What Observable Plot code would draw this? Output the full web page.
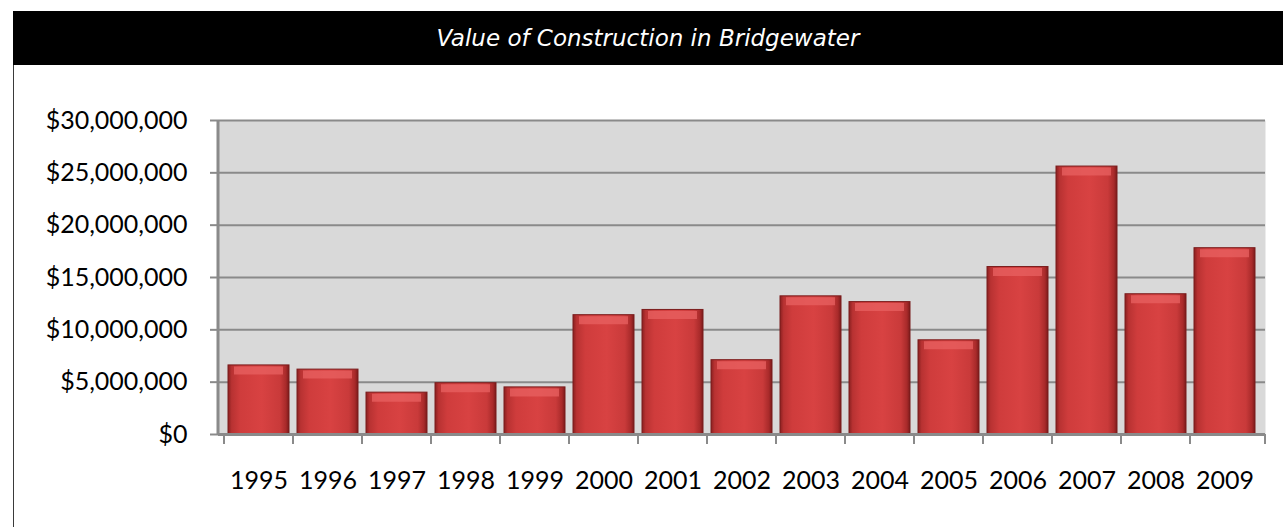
<!DOCTYPE html>
<html><head><meta charset="utf-8">
<script src="https://cdn.jsdelivr.net/npm/d3@7"></script>
<script src="https://cdn.jsdelivr.net/npm/@observablehq/plot@0.6"></script>
<style>
html,body{margin:0;padding:0;background:#fff;}
#wrap{position:relative;width:1283px;height:527px;overflow:hidden;background:#fff;}
#title{position:absolute;left:13px;top:11px;width:1270px;height:54px;background:#000;color:#fff;font-family:"DejaVu Sans";font-style:italic;font-weight:200;font-size:23px;text-align:center;line-height:54px;}
#border{position:absolute;left:13px;top:65px;width:1px;height:462px;background:#3a3a3a;}
#chart{position:absolute;left:0;top:65px;}
</style></head><body>
<div id="wrap"><div id="title">Value of Construction in Bridgewater</div><div id="border"></div><div id="chart"></div></div>
<script>
const years = ["1995","1996","1997","1998","1999","2000","2001","2002","2003","2004","2005","2006","2007","2008","2009"];
const values = [6600000, 6200000, 4000000, 4900000, 4500000, 11400000, 11900000, 7100000, 13200000, 12650000, 9000000, 16000000, 25600000, 13400000, 17800000];
const yTicks = [0, 5000000, 10000000, 15000000, 20000000, 25000000, 30000000];

const data = years.map((year, i) => ({year, value: values[i]}));
const fmt = d3.format("$,");

const chart = Plot.plot({
  width: 1283, height: 462,
  marginLeft: 218, marginRight: 18, marginTop: 55, marginBottom: 93,
  style: {fontFamily: "Lato", fontSize: "25px", color: "#000", background: "transparent", overflow: "visible"},
  x: {domain: years, paddingInner: 0.12, paddingOuter: 0.06, label: null},
  y: {domain: [0, 30000000], label: null},
  marks: [
    Plot.frame({fill: "#d9d9d9", stroke: "none"}),
    Plot.ruleY(yTicks.slice(1), {stroke: "#8a8a8a", strokeWidth: 2}),
    Plot.barY(data, {x: "year", y: "value", fill: "url(#barGrad)", stroke: "#7a1c1c", strokeWidth: 1}),
    Plot.tickY(data, {x: "year", y: "value", stroke: "#e86262", strokeOpacity: 0.75, strokeWidth: 8, dy: 5, insetLeft: 6, insetRight: 6}),
    Plot.axisY({ticks: yTicks, tickFormat: fmt, tickSize: 8, tickPadding: 23, stroke: "#8a8a8a", strokeWidth: 2, label: null}),
    Plot.axisX({tickSize: 0, tickPadding: 37, label: null}),
    Plot.ruleY([0], {stroke: "#8a8a8a", strokeWidth: 3})
  ]
});
document.getElementById("chart").appendChild(chart);

// gradients for bevelled bars
const svg = d3.select(chart);
const defs = svg.insert("defs", ":first-child");
const g = defs.append("linearGradient").attr("id", "barGrad").attr("x1", "0").attr("x2", "1").attr("y1", "0").attr("y2", "0");
[["0%", "#8a2020"], ["6%", "#b83232"], ["20%", "#cf3c3c"], ["55%", "#d84242"], ["85%", "#c93a3a"], ["95%", "#a82a2a"], ["100%", "#7a1a1a"]]
  .forEach(([o, c]) => g.append("stop").attr("offset", o).attr("stop-color", c));

// axis lines and category boundary ticks using the plot's scales
const xs = chart.scale("x"), ys = chart.scale("y");
const [x0, x1] = xs.range;
const yb = ys.apply(0), yt = ys.apply(30000000);
const half = (xs.step - xs.bandwidth) / 2;
const bounds = years.map(d => xs.apply(d) - half).concat([x1]);
const ax = svg.append("g").attr("stroke", "#8a8a8a");
ax.append("line").attr("x1", x0).attr("x2", x0).attr("y1", yt).attr("y2", yb).attr("stroke-width", 3);
ax.selectAll("line.b").data(bounds).join("line").attr("class", "b")
  .attr("x1", d => d).attr("x2", d => d).attr("y1", yb).attr("y2", yb + 10).attr("stroke-width", 2);
</script>
</body></html>
